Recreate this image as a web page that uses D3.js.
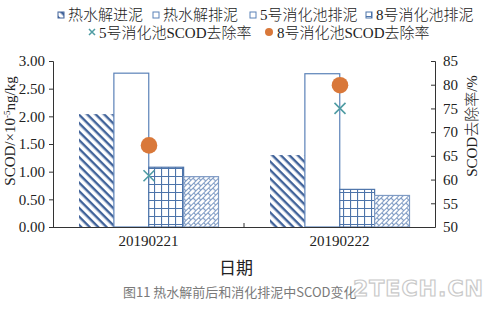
<!DOCTYPE html>
<html>
<head>
<meta charset="utf-8">
<script src="https://cdn.jsdelivr.net/npm/d3@7"></script>
<style>
  html, body { margin: 0; padding: 0; background: #fff; }
  svg { display: block; }
</style>
</head>
<body>
<svg id="chart" width="485" height="311"></svg>
<script>
// Dates on the category axis
const categories = ["20190221", "20190222"];
// SCOD (×10^-5 ng/kg) for each sludge stream
const hydroIn  = [2.04, 1.30];   // 热水解进泥
const hydroOut = [2.78, 2.77];   // 热水解排泥
const dig5Out  = [1.08, 0.68];   // 5号消化池排泥
const dig8Out  = [0.91, 0.57];   // 8号消化池排泥
// SCOD removal rate (%)
const removal5 = [60.8, 75.0];
const removal8 = [67.2, 79.9];
// Axis ticks
const leftTicks  = [0, 0.5, 1.0, 1.5, 2.0, 2.5, 3.0];
const rightTicks = [50, 55, 60, 65, 70, 75, 80, 85];

const barSeries = [
  { name: "热水解进泥", values: hydroIn,  fill: "url(#pStripe)", stroke: "none" },
  { name: "热水解排泥", values: hydroOut, fill: "#ffffff",       stroke: "#5b82b8" },
  { name: "5号消化池排泥", values: dig5Out, fill: "url(#pGrid)", stroke: "#4d74aa" },
  { name: "8号消化池排泥", values: dig8Out, fill: "url(#pBrick)", stroke: "#7f9bc4" }
];

const svg = d3.select("#chart");
const serif = "'Liberation Serif', 'Times New Roman', 'Noto Sans CJK SC', serif";
const axisColor = "#333";

// ---- fill patterns ----
const defs = svg.append("defs");
const stripe = defs.append("pattern").attr("id", "pStripe")
  .attr("patternUnits", "userSpaceOnUse").attr("width", 6).attr("height", 6)
  .attr("patternTransform", "rotate(45)");
stripe.append("rect").attr("width", 6).attr("height", 6).attr("fill", "#fff");
stripe.append("rect").attr("width", 6).attr("height", 2.4).attr("fill", "#41639a");

const grid = defs.append("pattern").attr("id", "pGrid")
  .attr("patternUnits", "userSpaceOnUse").attr("width", 7).attr("height", 8);
grid.append("rect").attr("width", 7).attr("height", 8).attr("fill", "#fff");
grid.append("path").attr("d", "M0,0.5H7M0.5,0V8").attr("stroke", "#4d74aa").attr("stroke-width", 1.2);

const brick = defs.append("pattern").attr("id", "pBrick")
  .attr("patternUnits", "userSpaceOnUse").attr("width", 7).attr("height", 7)
  .attr("patternTransform", "rotate(-45)");
brick.append("rect").attr("width", 7).attr("height", 7).attr("fill", "#fff");
brick.append("path").attr("d", "M0,0.5H7M0.5,0V3.5M3.5,3.5V7M0,3.5H7")
  .attr("stroke", "#7f9bc4").attr("stroke-width", 1.2).attr("fill", "none");

// ---- scales ----
const x = d3.scaleBand().domain(categories).range([53, 435]);
const xInner = d3.scaleBand().domain(barSeries.map(s => s.name)).range([26, 165.5]);
const y = d3.scaleLinear().domain([0, 3]).range([227, 61]);
const y2 = d3.scaleLinear().domain([50, 85]).range([227, 61]);

// ---- bars ----
barSeries.forEach(s => {
  svg.append("g").selectAll("rect").data(categories).join("rect")
    .attr("x", (c) => x(c) + xInner(s.name))
    .attr("y", (c, i) => y(s.values[i]))
    .attr("width", xInner.bandwidth())
    .attr("height", (c, i) => y(0) - y(s.values[i]))
    .attr("fill", s.fill)
    .attr("stroke", s.stroke)
    .attr("stroke-width", s.stroke === "none" ? 0 : 1.2);
});

// ---- axes ----
const axisLeft = svg.append("g").attr("transform", "translate(53,0)")
  .call(d3.axisLeft(y).tickValues(leftTicks).tickFormat(d3.format(".2f")).tickSize(4).tickPadding(4));
const axisRight = svg.append("g").attr("transform", "translate(435,0)")
  .call(d3.axisRight(y2).tickValues(rightTicks).tickSize(-4).tickPadding(8));
const axisBottom = svg.append("g").attr("transform", "translate(0,227)")
  .call(d3.axisBottom(x).tickSize(0).tickPadding(8));
// category boundary tick pointing up
svg.append("g").selectAll("line").data([x(categories[1])]).join("line")
  .attr("x1", d => d).attr("x2", d => d).attr("y1", 223).attr("y2", 227)
  .attr("stroke", axisColor);

[axisLeft, axisRight, axisBottom].forEach(g => {
  g.selectAll(".domain").attr("stroke", axisColor);
  g.selectAll(".tick line").attr("stroke", axisColor);
  g.selectAll("text").attr("font-family", serif).attr("font-size", 15).attr("fill", "#222");
});
axisBottom.selectAll(".domain").attr("d", "M53,0.5H435");

// ---- removal-rate markers (right axis) ----
const cx = (c) => x(c) + x.bandwidth() / 2 + 0.5;
svg.append("g").selectAll("path").data(categories).join("path")
  .attr("d", (c, i) => {
    const px = cx(c), py = y2(removal5[i]), r = 5.5;
    return `M${px - r},${py - r}L${px + r},${py + r}M${px - r},${py + r}L${px + r},${py - r}`;
  })
  .attr("stroke", "#4f9ca3").attr("stroke-width", 1.6).attr("fill", "none");
svg.append("g").selectAll("circle").data(categories).join("circle")
  .attr("cx", cx).attr("cy", (c, i) => y2(removal8[i])).attr("r", 8.3)
  .attr("fill", "#d9783a");

// ---- axis titles ----
svg.append("text")
  .attr("transform", "translate(15,131) rotate(-90)")
  .attr("text-anchor", "middle").attr("font-family", serif).attr("font-size", 15).attr("fill", "#222")
  .call(t => {
    t.append("tspan").text("SCOD/×10");
    t.append("tspan").attr("dy", -5).attr("font-size", 9).text("-5");
    t.append("tspan").attr("dy", 5).text("ng/kg");
  });
svg.append("text")
  .attr("transform", "translate(477,126) rotate(-90)")
  .attr("text-anchor", "middle").attr("font-family", serif).attr("font-size", 15)
  .attr("font-weight", 300).attr("fill", "#222")
  .text("SCOD去除率/%");
svg.append("text")
  .attr("x", 236).attr("y", 274).attr("text-anchor", "middle")
  .attr("font-family", "'Noto Sans CJK SC', sans-serif").attr("font-size", 17)
  .attr("fill", "#222").text("日期");

// ---- legend ----
const legend = svg.append("g").attr("font-family", serif).attr("font-size", 15)
  .attr("font-weight", 300).attr("fill", "#222");
const row1 = [
  { x: 58, name: "热水解进泥", fill: "url(#pStripe)", stroke: "#41639a" },
  { x: 153, name: "热水解排泥", fill: "#fff", stroke: "#5b82b8" },
  { x: 250, name: "5号消化池排泥", fill: "#fff", stroke: "#5b82b8" },
  { x: 366, name: "8号消化池排泥", fill: "url(#pGrid)", stroke: "#4d74aa" }
];
row1.forEach(d => {
  legend.append("rect").attr("x", d.x).attr("y", 12).attr("width", 6).attr("height", 6)
    .attr("fill", d.fill).attr("stroke", d.stroke).attr("stroke-width", 1);
  legend.append("text").attr("x", d.x + 10).attr("y", 20).text(d.name);
});
legend.append("path").attr("d", "M89,29L95,35M89,35L95,29")
  .attr("stroke", "#4f9ca3").attr("stroke-width", 1.5);
legend.append("text").attr("x", 99).attr("y", 38).text("5号消化池SCOD去除率");
legend.append("circle").attr("cx", 269).attr("cy", 32).attr("r", 4).attr("fill", "#d9783a");
legend.append("text").attr("x", 277).attr("y", 38).text("8号消化池SCOD去除率");

// ---- caption ----
svg.append("text")
  .attr("x", 123).attr("y", 297)
  .attr("font-family", "'Noto Sans CJK SC', sans-serif").attr("font-size", 13).attr("fill", "#7a7a7a")
  .text("图11 热水解前后和消化排泥中SCOD变化");
svg.append("text")
  .attr("x", 353).attr("y", 296).attr("textLength", 130)
  .attr("font-family", "'DejaVu Sans', sans-serif").attr("font-size", 22).attr("font-weight", "bold")
  .attr("fill", "#fff").attr("stroke", "#c9c9c9").attr("stroke-width", 1.2)
  .text("2TECH.CN");
</script>
</body>
</html>
